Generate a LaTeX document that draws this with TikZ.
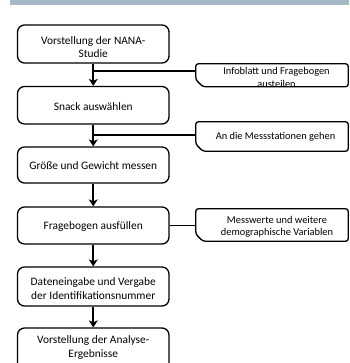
\documentclass[tikz,border=0pt]{standalone}
\usepackage{fontspec}
\setmainfont{Carlito}
\usetikzlibrary{arrows.meta,calc}
\definecolor{barblue}{HTML}{A5B8C3}
\begin{document}
\begin{tikzpicture}[x=1pt,y=-1pt,
  mainbox/.style={draw, line width=1.3pt, rounded corners=7pt, minimum width=151.5pt, inner sep=0pt},
  maintext/.style={align=center, font=\fontsize{11.4}{13.8}\selectfont, inner sep=0pt},
  sidebox/.style={minimum width=152pt, inner sep=0pt},
  sidetext/.style={align=center, font=\fontsize{10.4}{12.8}\selectfont, inner sep=0pt},
  sideline/.style={draw, line width=1.3pt, rounded corners=2.5pt},
  conn/.style={line width=1.8pt},
  arr/.style={conn, -{Stealth[length=7pt,width=9pt,inset=2pt]}}]
\useasboundingbox (0,0) rectangle (349,363);
\clip (0,0) rectangle (349,363);
\fill[barblue] (10,0) rectangle (349,5);

% main boxes
\node[mainbox, minimum height=38pt] (b1) at (93.25,44) {};
\node[mainbox, minimum height=37.5pt] (b2) at (93.25,105.25) {};
\node[mainbox, minimum height=36pt] (b3) at (93.25,165) {};
\node[mainbox, minimum height=37pt] (b4) at (93.25,225.5) {};
\node[mainbox, minimum height=39pt] (b5) at (93.25,286.5) {};
\node[mainbox, minimum height=44pt] (b6) at (93.25,350) {};
\node[maintext] (b1t) at (93.25,47) {Vorstellung der NANA-\\Studie};
\node[maintext] (b2t) at (93.25,106.5) {Snack auswählen};
\node[maintext] (b3t) at (93.25,166) {Größe und Gewicht messen};
\node[maintext] (b4t) at (93.25,226.5) {Fragebogen ausfüllen};
\node[maintext] (b5t) at (93.25,288.5) {Dateneingabe und Vergabe\\der Identifikationsnummer};
\node[maintext] (b6t) at (93.25,347.5) {Vorstellung der Analyse-\\Ergebnisse};

% side boxes
\node[sidebox, minimum height=22.5pt] (s1) at (272,75.25) {};
\node[sidebox, minimum height=29pt] (s2) at (272,136.5) {};
\node[sidebox, minimum height=32pt] (s3) at (272,225) {};
\foreach \s in {s1,s2,s3}{
  \draw[sideline] (\s.north east) -- (\s.south east) -- ([xshift=7pt]\s.south west)
    -- ([yshift=7pt]\s.south west) -- (\s.north west) -- cycle;
}
\node[sidetext] (s1t) at (276.5,77.5) {Infoblatt und Fragebogen\\austeilen};
\node[sidetext] (s2t) at (275.5,136.5) {An die Messstationen gehen};
\node[sidetext, font=\fontsize{10.4}{11.5}\selectfont] (s3t) at (277,227) {Messwerte und weitere\\demographische Variablen};

% connectors
\coordinate (j1) at (93.25,71);
\coordinate (j2) at (93.25,135);
\draw[arr] (b1.south) -- (b2.north);
\draw[conn] (j1) -- (j1 -| s1.west);
\draw[arr] (b2.south) -- (b3.north);
\draw[conn] (j2) -- (j2 -| s2.west);
\draw[arr] (b3.south) -- (b4.north);
\draw[conn] (b4.east) -- (b4.east -| s3.west);
\draw[arr] (b4.south) -- (b5.north);
\draw[arr] (b5.south) -- (b6.north);
\end{tikzpicture}
\end{document}
